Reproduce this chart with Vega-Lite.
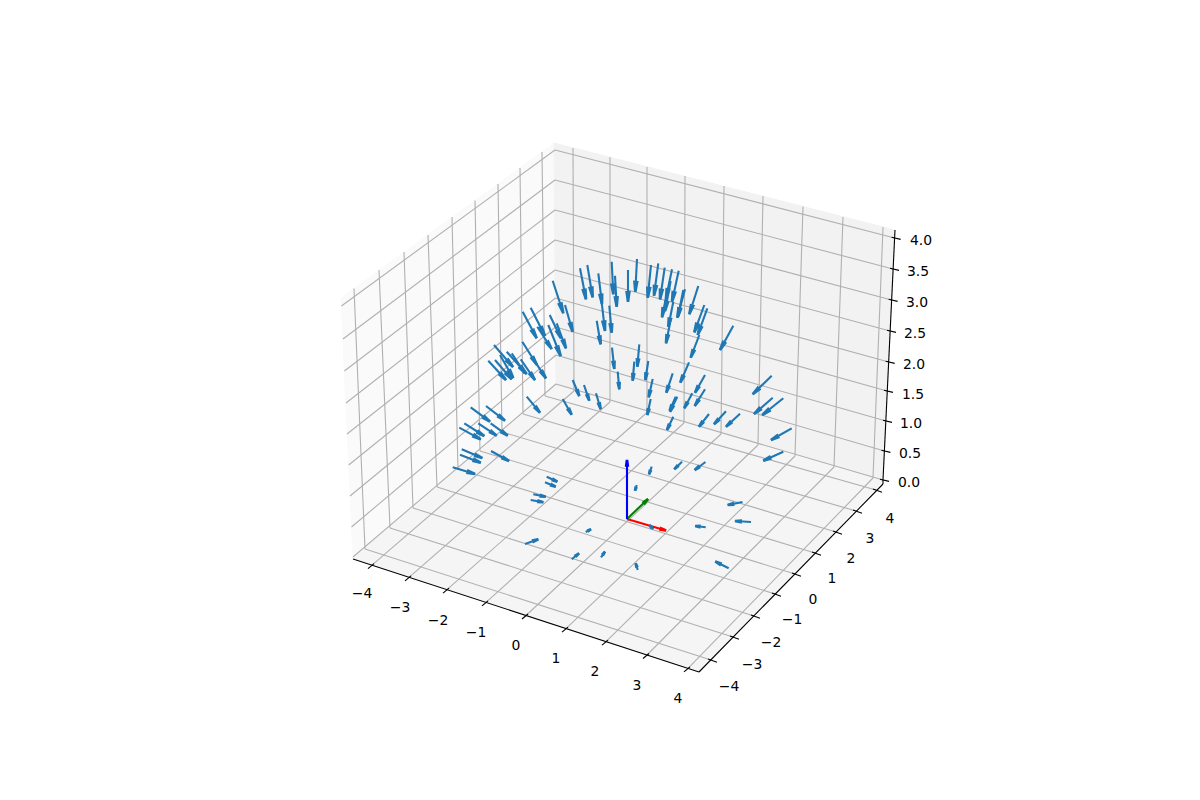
{"$schema":"https://vega.github.io/schema/vega-lite/v6.json","width":1200,"height":800,"padding":0,"autosize":{"type":"fit","contains":"padding"},"background":"white","config":{"view":{"stroke":null}},
"datasets":{
"panes":[
{"pane":"x","i":0,"x0":353,"y0":559},{"pane":"x","i":1,"x0":341,"y0":298},{"pane":"x","i":2,"x0":554,"y0":143},{"pane":"x","i":3,"x0":556,"y0":386},
{"pane":"y","i":0,"x0":556,"y0":386},{"pane":"y","i":1,"x0":554,"y0":143},{"pane":"y","i":2,"x0":895,"y0":230},{"pane":"y","i":3,"x0":883,"y0":481},
{"pane":"z","i":0,"x0":353,"y0":559},{"pane":"z","i":1,"x0":556,"y0":386},{"pane":"z","i":2,"x0":883,"y0":481},{"pane":"z","i":3,"x0":699,"y0":672}],
"grid":[
{"x0":354,"y0":288.5,"x1":365,"y1":549},{"x0":379,"y0":270,"x1":390,"y1":528},{"x0":404,"y0":252,"x1":413,"y1":508},{"x0":428,"y0":235,"x1":437,"y1":487},{"x0":452,"y0":217,"x1":458,"y1":469},{"x0":475,"y0":200.5,"x1":480,"y1":451},{"x0":498,"y0":184,"x1":502,"y1":432},{"x0":520,"y0":168,"x1":523,"y1":414},{"x0":542,"y0":152,"x1":545,"y1":396},
{"x0":573,"y0":148,"x1":574,"y1":391},{"x0":610,"y0":157,"x1":610,"y1":402},{"x0":647,"y0":167,"x1":647,"y1":412.5},{"x0":685,"y0":176,"x1":684,"y1":423},{"x0":724,"y0":186,"x1":721,"y1":434},{"x0":763,"y0":196,"x1":758,"y1":445},{"x0":803,"y0":206.5,"x1":795,"y1":456},{"x0":843,"y0":217,"x1":834,"y1":467},{"x0":883,"y0":227,"x1":873,"y1":478},
{"x0":372,"y0":565.2,"x1":574,"y1":391},{"x0":409,"y0":577.3,"x1":610,"y1":402},{"x0":447,"y0":589.7,"x1":647,"y1":412.5},{"x0":486,"y0":602.4,"x1":684,"y1":423},{"x0":526,"y0":615.5,"x1":721,"y1":434},{"x0":566,"y0":628.6,"x1":758,"y1":445},{"x0":606,"y0":641.6,"x1":795,"y1":456},{"x0":647,"y0":655,"x1":834,"y1":467},{"x0":688,"y0":668.4,"x1":873,"y1":478},
{"x0":711,"y0":660,"x1":365,"y1":549},{"x0":733,"y0":637,"x1":390,"y1":528},{"x0":754,"y0":616,"x1":413,"y1":508},{"x0":775,"y0":594,"x1":437,"y1":487},{"x0":795,"y0":574,"x1":458,"y1":469},{"x0":815,"y0":553,"x1":480,"y1":451},{"x0":836,"y0":532,"x1":502,"y1":432},{"x0":856,"y0":511,"x1":523,"y1":414},{"x0":876,"y0":490,"x1":545,"y1":396},
{"x0":555,"y0":150,"x1":341.4,"y1":306},{"x0":555,"y0":180,"x1":343,"y1":339},{"x0":555,"y0":210,"x1":344.4,"y1":371},{"x0":555,"y0":240,"x1":346,"y1":403},{"x0":555,"y0":270,"x1":347,"y1":434},{"x0":555.5,"y0":298,"x1":348.7,"y1":465},{"x0":555.5,"y0":327,"x1":350,"y1":496},{"x0":556,"y0":355,"x1":351.5,"y1":527},{"x0":556,"y0":384,"x1":353,"y1":557},
{"x0":555,"y0":150,"x1":894.6,"y1":238},{"x0":555,"y0":180,"x1":893,"y1":269},{"x0":555,"y0":210,"x1":891.6,"y1":300},{"x0":555,"y0":240,"x1":890,"y1":331},{"x0":555,"y0":270,"x1":888.7,"y1":362},{"x0":555.5,"y0":298,"x1":887,"y1":391},{"x0":555.5,"y0":327,"x1":886,"y1":421},{"x0":556,"y0":355,"x1":884.4,"y1":451},{"x0":556,"y0":384,"x1":883,"y1":480}],
"axes":[
{"x0":353,"y0":559,"x1":699,"y1":672},{"x0":699,"y0":672,"x1":883,"y1":484},{"x0":883,"y0":484,"x1":883,"y1":480},{"x0":883,"y0":480,"x1":895,"y1":230},
{"x0":374,"y0":563.7,"x1":368,"y1":568.7},{"x0":411,"y0":575.8,"x1":405,"y1":580.8},{"x0":449,"y0":588.2,"x1":443,"y1":593.2},{"x0":488,"y0":600.9,"x1":482,"y1":605.9},{"x0":528,"y0":614,"x1":522,"y1":619},{"x0":568,"y0":627.1,"x1":562,"y1":632.1},{"x0":608,"y0":640.1,"x1":602,"y1":645.1},{"x0":649,"y0":653.5,"x1":643,"y1":658.5},{"x0":690,"y0":666.9,"x1":684,"y1":671.9},
{"x0":708,"y0":659,"x1":717,"y1":662.3},{"x0":730,"y0":636,"x1":739,"y1":639.3},{"x0":751,"y0":615,"x1":760,"y1":618.3},{"x0":772,"y0":593,"x1":781,"y1":596.3},{"x0":792,"y0":573,"x1":801,"y1":576.3},{"x0":812,"y0":552,"x1":821,"y1":555.3},{"x0":833,"y0":531,"x1":842,"y1":534.3},{"x0":853,"y0":510,"x1":862,"y1":513.3},{"x0":873,"y0":489,"x1":882,"y1":492.3},
{"x0":891.6,"y0":237.3,"x1":900.6,"y1":239.4},{"x0":890,"y0":268.3,"x1":899,"y1":270.4},{"x0":888.6,"y0":299.3,"x1":897.6,"y1":301.4},{"x0":887,"y0":330.3,"x1":896,"y1":332.4},{"x0":885.7,"y0":361.3,"x1":894.7,"y1":363.4},{"x0":884,"y0":390.3,"x1":893,"y1":392.4},{"x0":883,"y0":420.3,"x1":892,"y1":422.4},{"x0":881.4,"y0":450.3,"x1":890.4,"y1":452.4},{"x0":880,"y0":479.3,"x1":889,"y1":481.4}],
"labels":[
{"x0":362,"y0":593,"t":"−4"},{"x0":400,"y0":607,"t":"−3"},{"x0":438,"y0":620,"t":"−2"},{"x0":476,"y0":632,"t":"−1"},{"x0":516,"y0":645,"t":"0"},{"x0":556,"y0":658,"t":"1"},{"x0":595,"y0":671,"t":"2"},{"x0":637,"y0":685,"t":"3"},{"x0":678,"y0":698,"t":"4"},
{"x0":729,"y0":686,"t":"−4"},{"x0":752,"y0":664,"t":"−3"},{"x0":771,"y0":642,"t":"−2"},{"x0":792,"y0":619,"t":"−1"},{"x0":813,"y0":599,"t":"0"},{"x0":832,"y0":578,"t":"1"},{"x0":851,"y0":558,"t":"2"},{"x0":870,"y0":538,"t":"3"},{"x0":890,"y0":518,"t":"4"},
{"x0":921,"y0":240,"t":"4.0"},{"x0":918,"y0":271,"t":"3.5"},{"x0":917,"y0":302,"t":"3.0"},{"x0":915,"y0":333,"t":"2.5"},{"x0":914,"y0":364,"t":"2.0"},{"x0":913,"y0":394,"t":"1.5"},{"x0":911,"y0":423,"t":"1.0"},{"x0":910,"y0":453,"t":"0.5"},{"x0":909,"y0":482,"t":"0.0"}],
"arrows":[
{"s":"v","x0":470.7,"y0":407.3,"x1":490,"y1":421.7,"len":24,"ang":127},
{"s":"v","x0":486,"y0":406,"x1":505,"y1":420.7,"len":24,"ang":128},
{"s":"v","x0":464.3,"y0":423.3,"x1":484.3,"y1":436,"len":23.7,"ang":122},
{"s":"v","x0":478.3,"y0":423.3,"x1":496.7,"y1":435.7,"len":22,"ang":124},
{"s":"v","x0":490.7,"y0":423.3,"x1":507.7,"y1":435.7,"len":21,"ang":126},
{"s":"v","x0":459.3,"y0":427.7,"x1":480.7,"y1":439.3,"len":24,"ang":118},
{"s":"v","x0":461.7,"y0":449.3,"x1":482.3,"y1":458,"len":22,"ang":113},
{"s":"v","x0":460,"y0":454.7,"x1":480.7,"y1":462.7,"len":22,"ang":111},
{"s":"v","x0":491,"y0":451,"x1":509,"y1":461,"len":21,"ang":119},
{"s":"v","x0":452.7,"y0":467.3,"x1":475,"y1":474,"len":23,"ang":107},
{"s":"v","x0":526.7,"y0":396.7,"x1":540,"y1":412.7,"len":21,"ang":140},
{"s":"v","x0":562.7,"y0":399,"x1":571.7,"y1":414.7,"len":18,"ang":150},
{"s":"v","x0":572.7,"y0":380,"x1":579.3,"y1":396,"len":17,"ang":158},
{"s":"v","x0":584,"y0":385,"x1":589.3,"y1":400.7,"len":17,"ang":161},
{"s":"v","x0":596,"y0":393.3,"x1":600.7,"y1":409.3,"len":17,"ang":164},
{"s":"v","x0":546.7,"y0":476.7,"x1":557.3,"y1":481.7,"len":12,"ang":115},
{"s":"v","x0":545,"y0":482.3,"x1":555.7,"y1":486.7,"len":12,"ang":112},
{"s":"v","x0":533.3,"y0":494.3,"x1":545.7,"y1":496.7,"len":13,"ang":101},
{"s":"v","x0":530.7,"y0":500,"x1":543.3,"y1":502.3,"len":13,"ang":100},
{"s":"v","x0":552.7,"y0":280.7,"x1":563.3,"y1":313.3,"len":34,"ang":162},
{"s":"v","x0":565,"y0":305,"x1":572.7,"y1":331.7,"len":28,"ang":164},
{"s":"v","x0":522.7,"y0":311.7,"x1":536.7,"y1":338.3,"len":30,"ang":152},
{"s":"v","x0":530.7,"y0":307.7,"x1":545,"y1":336,"len":32,"ang":153},
{"s":"v","x0":549.7,"y0":315,"x1":561,"y1":338.3,"len":26,"ang":154},
{"s":"v","x0":556.7,"y0":323.3,"x1":566,"y1":348.3,"len":27,"ang":160},
{"s":"v","x0":548.3,"y0":325,"x1":560.7,"y1":356,"len":33,"ang":158},
{"s":"v","x0":537.3,"y0":326.7,"x1":551.7,"y1":349,"len":27,"ang":147},
{"s":"v","x0":522.3,"y0":341.7,"x1":537,"y1":365,"len":28,"ang":148},
{"s":"v","x0":531.7,"y0":356.7,"x1":546,"y1":378.3,"len":26,"ang":146},
{"s":"v","x0":494,"y0":345,"x1":513,"y1":367,"len":29,"ang":139},
{"s":"v","x0":500,"y0":355,"x1":513.3,"y1":378,"len":27,"ang":150},
{"s":"v","x0":506.7,"y0":351.7,"x1":526.7,"y1":374,"len":30,"ang":138},
{"s":"v","x0":511.7,"y0":353.3,"x1":525,"y1":373.3,"len":24,"ang":146},
{"s":"v","x0":520.7,"y0":359.3,"x1":535,"y1":380,"len":25,"ang":145},
{"s":"v","x0":488.3,"y0":360.7,"x1":506,"y1":380,"len":26,"ang":137},
{"s":"v","x0":495,"y0":360,"x1":511.7,"y1":379.3,"len":25.5,"ang":139},
{"s":"v","x0":580,"y0":268.3,"x1":586,"y1":299.3,"len":32,"ang":169},
{"s":"v","x0":587.3,"y0":265,"x1":592.7,"y1":297.3,"len":33,"ang":170},
{"s":"v","x0":598.3,"y0":273.3,"x1":602,"y1":304,"len":31,"ang":173},
{"s":"v","x0":601.3,"y0":299,"x1":605,"y1":331,"len":32,"ang":173},
{"s":"v","x0":596.7,"y0":320.7,"x1":600.7,"y1":344.3,"len":24,"ang":170},
{"s":"v","x0":611.7,"y0":261.7,"x1":613.3,"y1":294.3,"len":33,"ang":177},
{"s":"v","x0":615,"y0":275.7,"x1":616.7,"y1":306.7,"len":31,"ang":177},
{"s":"v","x0":609.3,"y0":305.7,"x1":611.7,"y1":332.7,"len":27,"ang":175},
{"s":"v","x0":628,"y0":270,"x1":628,"y1":301.7,"len":32,"ang":180},
{"s":"v","x0":637,"y0":259,"x1":635.3,"y1":291.7,"len":33,"ang":183},
{"s":"v","x0":651,"y0":265,"x1":647.7,"y1":297.7,"len":33,"ang":186},
{"s":"v","x0":658.3,"y0":263.3,"x1":654,"y1":295.7,"len":33,"ang":188},
{"s":"v","x0":664.7,"y0":267.7,"x1":660,"y1":299.3,"len":32,"ang":188},
{"s":"v","x0":672,"y0":269.3,"x1":666,"y1":298.3,"len":30,"ang":192},
{"s":"v","x0":670.7,"y0":281,"x1":665,"y1":311,"len":30.5,"ang":191},
{"s":"v","x0":668,"y0":287.7,"x1":662,"y1":317.3,"len":30,"ang":191},
{"s":"v","x0":678.7,"y0":270.7,"x1":672,"y1":301.7,"len":32,"ang":192},
{"s":"v","x0":685,"y0":289.3,"x1":677.3,"y1":317.7,"len":29.5,"ang":195},
{"s":"v","x0":683.3,"y0":290,"x1":678,"y1":316.7,"len":27,"ang":191},
{"s":"v","x0":698.3,"y0":286,"x1":689.3,"y1":314.3,"len":30,"ang":198},
{"s":"v","x0":704.3,"y0":305,"x1":694.3,"y1":332.3,"len":29,"ang":200},
{"s":"v","x0":707.3,"y0":308.3,"x1":697.7,"y1":335,"len":28,"ang":200},
{"s":"v","x0":673.3,"y0":301.7,"x1":668.3,"y1":326.7,"len":25.5,"ang":191},
{"s":"v","x0":671,"y0":318.3,"x1":666,"y1":343.3,"len":25.5,"ang":191},
{"s":"v","x0":699.3,"y0":335,"x1":690.7,"y1":357.7,"len":24,"ang":201},
{"s":"v","x0":733.3,"y0":325.7,"x1":720,"y1":350,"len":28,"ang":209},
{"s":"v","x0":612,"y0":347.7,"x1":614.3,"y1":369,"len":21.5,"ang":174},
{"s":"v","x0":639.3,"y0":344.3,"x1":637.3,"y1":366.7,"len":22.5,"ang":185},
{"s":"v","x0":634.3,"y0":361.7,"x1":632.7,"y1":380.7,"len":19,"ang":185},
{"s":"v","x0":617.7,"y0":371.7,"x1":619.3,"y1":389.3,"len":18,"ang":175},
{"s":"v","x0":648.3,"y0":361,"x1":645.3,"y1":380,"len":19,"ang":189},
{"s":"v","x0":652.7,"y0":379,"x1":648.7,"y1":397.3,"len":19,"ang":192},
{"s":"v","x0":650.7,"y0":399,"x1":647.3,"y1":415,"len":16,"ang":192},
{"s":"v","x0":672.7,"y0":373.3,"x1":666.3,"y1":392.7,"len":20,"ang":198},
{"s":"v","x0":689,"y0":362.3,"x1":680.3,"y1":382.7,"len":22,"ang":203},
{"s":"v","x0":705,"y0":375,"x1":695,"y1":392.7,"len":20,"ang":209},
{"s":"v","x0":705,"y0":389.3,"x1":694.7,"y1":406,"len":20,"ang":212},
{"s":"v","x0":692.3,"y0":393.3,"x1":684.3,"y1":408.3,"len":17,"ang":208},
{"s":"v","x0":677.3,"y0":396.7,"x1":670,"y1":411.7,"len":17,"ang":206},
{"s":"v","x0":675.7,"y0":396.7,"x1":669.7,"y1":410.7,"len":15,"ang":203},
{"s":"v","x0":673.3,"y0":416.7,"x1":667,"y1":430,"len":15,"ang":205},
{"s":"v","x0":709,"y0":414,"x1":699,"y1":426.7,"len":16,"ang":218},
{"s":"v","x0":726,"y0":411.3,"x1":714,"y1":424.3,"len":18,"ang":223},
{"s":"v","x0":740,"y0":413.7,"x1":726,"y1":426.7,"len":19,"ang":227},
{"s":"v","x0":771.7,"y0":375.7,"x1":752.7,"y1":394.3,"len":26.6,"ang":226},
{"s":"v","x0":772.7,"y0":397.7,"x1":754,"y1":414,"len":25,"ang":229},
{"s":"v","x0":783.3,"y0":398.3,"x1":762.3,"y1":415,"len":27,"ang":232},
{"s":"v","x0":791.7,"y0":428.3,"x1":771,"y1":440,"len":24,"ang":241},
{"s":"v","x0":783.3,"y0":451.7,"x1":763.3,"y1":460.7,"len":22,"ang":246},
{"s":"v","x0":682,"y0":461.7,"x1":674.3,"y1":469.3,"len":11,"ang":225},
{"s":"v","x0":705.5,"y0":462,"x1":694.7,"y1":470,"len":13.4,"ang":233},
{"s":"v","x0":651.7,"y0":466.7,"x1":649,"y1":474.3,"len":8,"ang":200},
{"s":"v","x0":636.7,"y0":485,"x1":635,"y1":490.7,"len":6,"ang":197},
{"s":"v","x0":742.5,"y0":502,"x1":727.7,"y1":505,"len":15,"ang":259},
{"s":"v","x0":751,"y0":522,"x1":735,"y1":521,"len":16,"ang":274},
{"s":"v","x0":705.7,"y0":527.2,"x1":695.2,"y1":526,"len":10.6,"ang":277},
{"s":"v","x0":728.7,"y0":568.2,"x1":715.3,"y1":561.5,"len":15,"ang":297},
{"s":"v","x0":653.3,"y0":529.3,"x1":649.3,"y1":525,"len":6,"ang":317},
{"s":"v","x0":585.7,"y0":532,"x1":591,"y1":529.3,"len":6,"ang":63},
{"s":"v","x0":525,"y0":544,"x1":538.3,"y1":539.3,"len":14,"ang":71},
{"s":"v","x0":571.7,"y0":559.3,"x1":579,"y1":553.3,"len":9.5,"ang":51},
{"s":"v","x0":601,"y0":557.3,"x1":605,"y1":551.7,"len":7,"ang":36},
{"s":"v","x0":637.7,"y0":570,"x1":635.7,"y1":563.3,"len":7,"ang":343},
{"s":"ax","x0":627,"y0":519,"x1":666,"y1":530.5,"len":15,"ang":106},
{"s":"ay","x0":627,"y0":519,"x1":648,"y1":499,"len":15,"ang":46},
{"s":"az","x0":627,"y0":519,"x1":627,"y1":460,"len":15,"ang":0}]},
"encoding":{
"x":{"field":"x0","type":"quantitative","scale":{"domain":[0,1200],"nice":false,"zero":false},"axis":null},
"y":{"field":"y0","type":"quantitative","scale":{"domain":[800,0],"nice":false,"zero":false},"axis":null}},
"layer":[
{"data":{"name":"panes"},"transform":[{"filter":"datum.pane=='x'"}],"mark":{"type":"line","fill":"#fafafa","stroke":"#fafafa","strokeWidth":1,"interpolate":"linear"},"encoding":{"order":{"field":"i","type":"ordinal"}}},
{"data":{"name":"panes"},"transform":[{"filter":"datum.pane=='y'"}],"mark":{"type":"line","fill":"#f2f2f2","stroke":"#f2f2f2","strokeWidth":1,"interpolate":"linear"},"encoding":{"order":{"field":"i","type":"ordinal"}}},
{"data":{"name":"panes"},"transform":[{"filter":"datum.pane=='z'"}],"mark":{"type":"line","fill":"#f5f5f5","stroke":"#f5f5f5","strokeWidth":1,"interpolate":"linear"},"encoding":{"order":{"field":"i","type":"ordinal"}}},
{"data":{"name":"grid"},"mark":{"type":"rule","color":"#b0b0b0","strokeWidth":1.1},"encoding":{"x2":{"field":"x1"},"y2":{"field":"y1"}}},
{"data":{"name":"axes"},"mark":{"type":"rule","color":"#000000","strokeWidth":1.1},"encoding":{"x2":{"field":"x1"},"y2":{"field":"y1"}}},
{"data":{"name":"arrows"},"mark":{"type":"rule","strokeWidth":2.1},"encoding":{"x2":{"field":"x1"},"y2":{"field":"y1"},"color":{"field":"s","type":"nominal","legend":null,"scale":{"domain":["v","ax","ay","az"],"range":["#1f77b4","#ff0000","#008000","#0000ff"]}}}},
{"data":{"name":"arrows"},"mark":{"type":"point","filled":true,"opacity":1,"strokeWidth":2.6,"shape":"M0,0L-0.14,1L0.14,1Z"},"encoding":{
"x":{"field":"x1","type":"quantitative"},"y":{"field":"y1","type":"quantitative"},
"angle":{"field":"ang","type":"quantitative","scale":null},
"size":{"field":"len","type":"quantitative","legend":null,"scale":{"type":"pow","exponent":1.5,"domain":[0,60],"range":[0,916]}},
"color":{"field":"s","type":"nominal","legend":null},"stroke":{"field":"s","type":"nominal","legend":null,"scale":{"domain":["v","ax","ay","az"],"range":["#1f77b4","#ff0000","#008000","#0000ff"]}}}},
{"data":{"name":"labels"},"mark":{"type":"text","font":"DejaVu Sans","fontSize":13.9,"color":"#000000","align":"center","baseline":"middle","dy":1},"encoding":{"text":{"field":"t","type":"nominal"}}}
]}
